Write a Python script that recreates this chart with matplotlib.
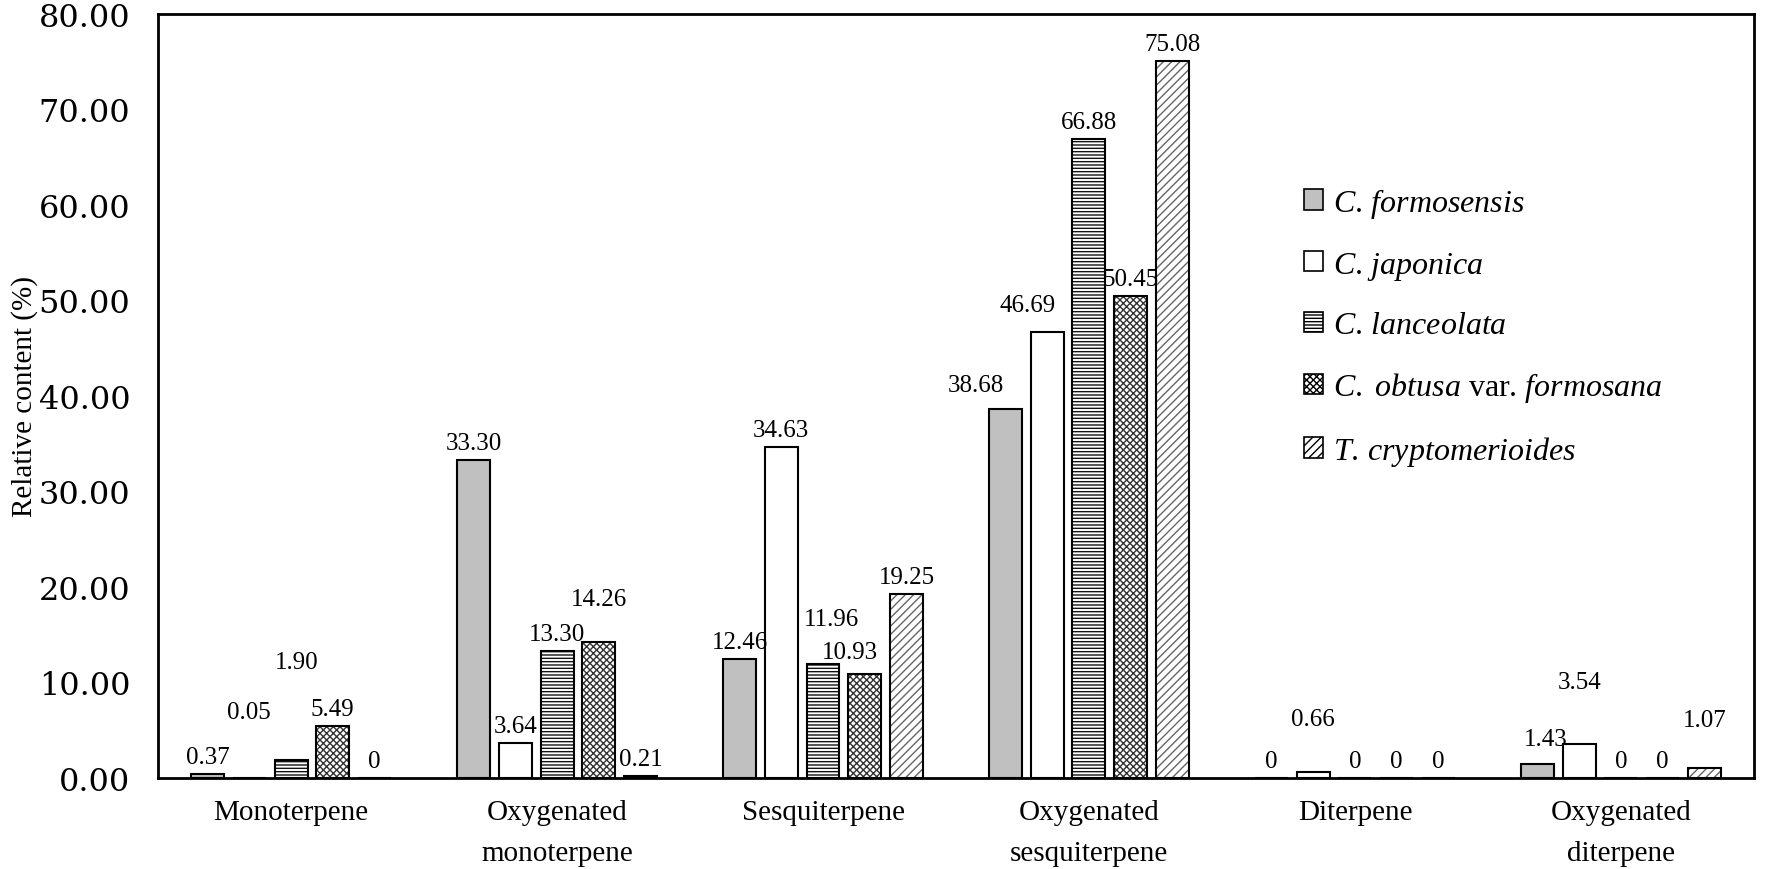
import numpy as np
import matplotlib
matplotlib.use("Agg")
import matplotlib.pyplot as plt
from matplotlib.patches import Patch

plt.rcParams['font.family'] = ['Liberation Serif', 'DejaVu Serif']
plt.rcParams['mathtext.fontset'] = 'custom'
plt.rcParams['mathtext.rm'] = 'Liberation Serif'
plt.rcParams['mathtext.it'] = 'Liberation Serif:italic'
plt.rcParams['hatch.linewidth'] = 1.0

categories = ["Monoterpene", "Oxygenated\nmonoterpene", "Sesquiterpene",
              "Oxygenated\nsesquiterpene", "Diterpene", "Oxygenated\nditerpene"]
legend_labels = [r"$\it{C.\/formosensis}$", r"$\it{C.\/japonica}$", r"$\it{C.\/lanceolata}$",
                 r"$\it{C.\ obtusa}$ var. $\it{formosana}$", r"$\it{T.\/cryptomerioides}$"]

c_formosensis = [0.37, 33.30, 12.46, 38.68, 0, 1.43]
c_japonica = [0.05, 3.64, 34.63, 46.69, 0.66, 3.54]
c_lanceolata = [1.90, 13.30, 11.96, 66.88, 0, 0]
c_obtusa = [5.49, 14.26, 10.93, 50.45, 0, 0]
t_cryptomerioides = [0, 0.21, 19.25, 75.08, 0, 1.07]
series = [c_formosensis, c_japonica, c_lanceolata, c_obtusa, t_cryptomerioides]

# fill, hatch, hatch colour for each species
styles = [("#c0c0c0", None, "black"),
          ("white", None, "black"),
          ("white", "-----", "#111111"),
          ("white", "xxxxx", "#333333"),
          ("white", "////", "#666666")]

# hand placed label nudges (px) like in the original figure
nudges = {(0, 1): (0, 49), (0, 2): (6, 81), (1, 3): (0, 26), (2, 2): (8, 28),
          (2, 3): (-15, 5), (3, 0): (-30, 7), (3, 1): (-20, 10), (4, 1): (0, 36),
          (5, 0): (8, 8), (5, 1): (0, 45), (5, 4): (0, 31)}

fig = plt.figure(figsize=(17.72, 8.70), dpi=100)
ax = fig.add_axes([0.0892, 0.1046, 0.9006, 0.8782])

x = np.arange(len(categories))
step = 0.157
width = 0.124
px = 72 / 100  # points per pixel

for i, vals in enumerate(series):
    fill, hatch, hcol = styles[i]
    pos = x + (i - 2) * step
    ax.bar(pos, vals, width, color=fill, hatch=hatch, edgecolor=hcol, linewidth=0)
    ax.bar(pos, vals, width, fill=False, edgecolor="black", linewidth=1.5)
    for j, v in enumerate(vals):
        txt = "0" if v == 0 else f"{v:.2f}"
        dx, dy = nudges.get((j, i), (0, 0))
        ax.annotate(txt, (pos[j], v), xytext=(dx * px, (17 + dy) * px),
                    textcoords="offset points", ha="center", va="center", fontsize=18)

ax.set_xlim(-0.5, len(categories) - 0.5)
ax.set_ylim(0, 80)
ax.set_yticks(np.arange(0, 81, 10))
ax.set_yticklabels([f"{t:.2f}" for t in np.arange(0, 81, 10)], fontsize=23, family="DejaVu Serif")
ax.set_xticks(x)
ax.set_xticklabels(categories, fontsize=21, linespacing=1.75)
ax.tick_params(axis="y", length=0, pad=20)
ax.tick_params(axis="x", length=0, pad=15)
for s in ax.spines.values():
    s.set_linewidth(2)

ax.set_ylabel("Relative content (%)", fontsize=21)
ax.yaxis.set_label_coords(-0.075, 0.5)

handles = [Patch(facecolor=st[0], hatch=st[1], edgecolor="black", linewidth=1.2) for st in styles]
ax.legend(handles, legend_labels, loc="upper left", bbox_to_anchor=(0.718, 0.775),
          frameon=False, fontsize=23, handlelength=0.6, handleheight=0.6,
          handletextpad=0.3, labelspacing=0.93, borderpad=0, borderaxespad=0)

fig.savefig("out.png", dpi=100)
